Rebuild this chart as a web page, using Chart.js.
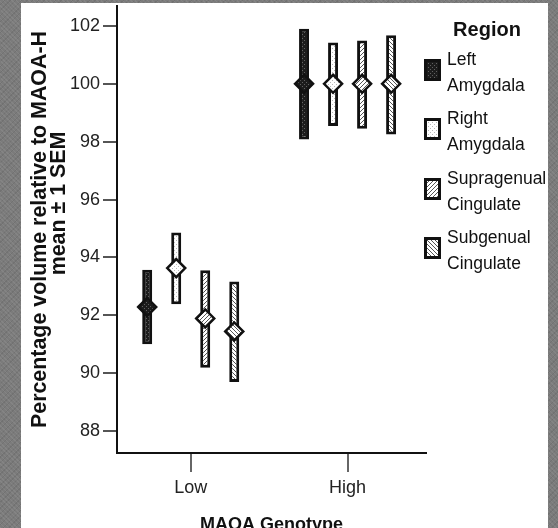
<!DOCTYPE html>
<html>
<head>
<meta charset="utf-8">
<title>Regional volume by MAOA genotype</title>
<script src="https://cdn.jsdelivr.net/npm/chart.js@4.4.1/dist/chart.umd.min.js"></script>
<style>
  html, body { margin: 0; padding: 0; width: 558px; height: 528px; overflow: hidden; }
  body {
    position: relative;
    background-color: #7b7b7b;
    background-image:
      repeating-linear-gradient(45deg, rgba(255,255,255,0.07) 0 1px, transparent 1px 3px),
      repeating-linear-gradient(-45deg, rgba(0,0,0,0.08) 0 1px, transparent 1px 4px);
    font-family: "Liberation Sans", Arial, sans-serif;
    color: #111;
  }
  #panel { position: absolute; left: 21px; top: 3px; width: 527px; height: 525px; background: #fff; }
  #chart { position: absolute; left: 0; top: 0; }
  #legend { position: absolute; left: 0; top: 0; }
  .lg-title { position: absolute; left: 427px; top: 17px; width: 120px; text-align: center;
              font-size: 20px; font-weight: bold; line-height: 24px; }
  .lg-swatch { position: absolute; left: 424px; }
  .lg-text { position: absolute; left: 447px; font-size: 17.5px; line-height: 26px; white-space: nowrap; }
</style>
</head>
<body>
<div id="panel"></div>
<canvas id="chart" width="558" height="540"></canvas>
<div id="legend"></div>
<script>
// values (percentage of MAOA-H mean)
const genotypes = ["Low", "High"];
const regions = ["Left Amygdala", "Right Amygdala", "Supragenual Cingulate", "Subgenual Cingulate"];
const legendLines = [["Left", "Amygdala"], ["Right", "Amygdala"], ["Supragenual", "Cingulate"], ["Subgenual", "Cingulate"]];
// [Low, High] per region
const means = [[92.29, 100.0], [93.63, 100.0], [91.89, 100.0], [91.44, 100.0]];
const semLower = [[91.0, 98.08], [92.38, 98.54], [90.19, 98.45], [89.69, 98.25]];
const semUpper = [[93.57, 101.9], [94.86, 101.43], [93.56, 101.5], [93.17, 101.68]];
const yTicks = [88, 90, 92, 94, 96, 98, 100, 102];
const yTitleLines = ["Percentage volume relative to MAOA-H", "mean \u00b1 1 SEM"];

const FONT = '"Liberation Sans", Arial, sans-serif';
const INK = "#111";
const spread = 0.185; // distance between regions inside a genotype group

function makePattern(kind) {
    const c = document.createElement("canvas");
    c.width = 4; c.height = 4;
    const g = c.getContext("2d");
    g.fillStyle = kind === "dark" ? "#1c1c1c" : "#fff";
    g.fillRect(0, 0, 4, 4);
    if (kind === "dark") {
        g.fillStyle = "#606060";
        g.fillRect(0, 0, 1, 1); g.fillRect(2, 2, 1, 1);
    } else if (kind === "dots") {
        g.fillStyle = "#b8b8b8";
        g.fillRect(0, 0, 1, 1); g.fillRect(2, 2, 1, 1);
    } else if (kind === "fwd") {
        g.fillStyle = "#555";
        g.fillRect(3, 0, 1, 1); g.fillRect(2, 1, 1, 1); g.fillRect(1, 2, 1, 1); g.fillRect(0, 3, 1, 1);
    } else if (kind === "back") {
        g.fillStyle = "#555";
        g.fillRect(0, 0, 1, 1); g.fillRect(1, 1, 1, 1); g.fillRect(2, 2, 1, 1); g.fillRect(3, 3, 1, 1);
    }
    return g.createPattern(c, "repeat");
}

const patternKinds = ["dark", "dots", "fwd", "back"];
const fills = patternKinds.map(makePattern);

const barSets = regions.map((name, r) => ({
    type: "bar",
    label: name,
    order: 2,
    grouped: false,
    maxBarThickness: 10,
    borderWidth: 3,
    borderSkipped: false,
    borderColor: INK,
    backgroundColor: fills[r],
    data: genotypes.map((g, i) => ({ x: i + (r - 1.5) * spread, y: [semLower[r][i], semUpper[r][i]] }))
}));

const meanSets = regions.map((name, r) => ({
    type: "scatter",
    label: name + " mean",
    order: 1,
    pointStyle: "rectRot",
    pointRadius: 9,
    pointBorderWidth: 2.5,
    pointBorderColor: INK,
    pointBackgroundColor: fills[r],
    data: genotypes.map((g, i) => ({ x: i + (r - 1.5) * spread, y: means[r][i] }))
}));

const yTitlePlugin = {
    id: "yTitle",
    afterDraw(chart) {
        const ctx = chart.ctx;
        const mid = (chart.chartArea.top + chart.chartArea.bottom) / 2;
        const spots = [[46, mid], [65, mid - 26]];
        ctx.save();
        ctx.fillStyle = INK;
        ctx.font = "bold 21.4px " + FONT;
        ctx.textAlign = "center";
        ctx.textBaseline = "alphabetic";
        yTitleLines.forEach((line, i) => {
            ctx.save();
            ctx.translate(spots[i][0], spots[i][1]);
            ctx.rotate(-Math.PI / 2);
            ctx.fillText(line, 0, 0);
            ctx.restore();
        });
        ctx.restore();
    }
};

new Chart(document.getElementById("chart"), {
    type: "scatter",
    data: { datasets: [...barSets, ...meanSets] },
    options: {
        responsive: false,
        animation: false,
        layout: { autoPadding: false, padding: { left: 0, top: 6, right: 132, bottom: 0 } },
        plugins: { legend: { display: false }, tooltip: { enabled: false } },
        scales: {
            x: {
                type: "linear",
                min: -0.47,
                max: 1.5,
                offset: false,
                afterBuildTicks: s => { s.ticks = genotypes.map((g, i) => ({ value: i })); },
                afterFit: s => { s.height = 87; s.paddingLeft = 0; s.paddingRight = 0; },
                ticks: {
                    callback: v => genotypes[v],
                    font: { family: FONT, size: 18 },
                    color: "#222",
                    padding: 5,
                    autoSkip: false,
                    maxRotation: 0
                },
                grid: { drawOnChartArea: false, tickLength: 19, color: "#666", lineWidth: 2, offset: false },
                border: { color: INK, width: 2 },
                title: {
                    display: true,
                    text: "MAOA Genotype",
                    color: INK,
                    font: { family: FONT, size: 18, weight: "bold" },
                    padding: { top: 0, bottom: 4 }
                }
            },
            y: {
                min: 87.24,
                max: 102.69,
                afterBuildTicks: s => { s.ticks = yTicks.map(v => ({ value: v })); },
                afterFit: s => { s.width = 117; s.paddingTop = 0; s.paddingBottom = 0; },
                ticks: { font: { family: FONT, size: 18 }, color: "#222", padding: 3 },
                grid: { drawOnChartArea: false, tickLength: 14, color: "#555", lineWidth: 2 },
                border: { color: INK, width: 2 }
            }
        }
    },
    plugins: [yTitlePlugin]
});

// legend
const legend = document.getElementById("legend");
const head = document.createElement("div");
head.className = "lg-title";
head.textContent = "Region";
legend.appendChild(head);

legendLines.forEach((lines, r) => {
    const baseline = 65 + r * 59.3;
    const sw = document.createElement("canvas");
    sw.className = "lg-swatch";
    sw.width = 17; sw.height = 22;
    sw.style.top = Math.round(baseline - 6) + "px";
    const g = sw.getContext("2d");
    g.fillStyle = INK;
    g.fillRect(0, 0, 17, 22);
    g.fillStyle = fills[r];
    g.fillRect(3, 3, 11, 16);
    legend.appendChild(sw);

    const txt = document.createElement("div");
    txt.className = "lg-text";
    txt.style.top = Math.round(baseline - 19) + "px";
    txt.innerHTML = lines.join("<br>");
    legend.appendChild(txt);
});
</script>
</body>
</html>
